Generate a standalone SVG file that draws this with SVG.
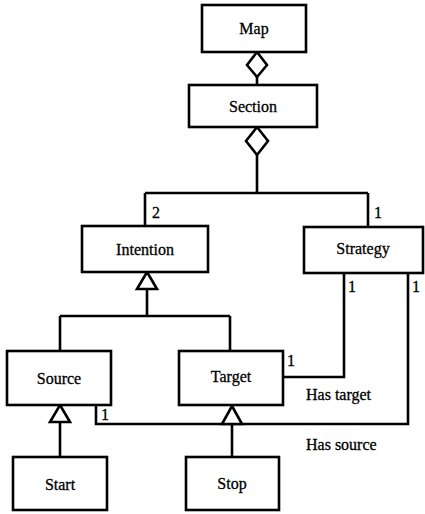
<svg xmlns="http://www.w3.org/2000/svg" width="425" height="514" viewBox="0 0 425 514">
<style>
.box{fill:#fff;stroke:#000;stroke-width:2.6}
.ln{fill:none;stroke:#000;stroke-width:2.6}
.dia{fill:#fff;stroke:#000;stroke-width:2.6}
text{font-family:"Liberation Serif","Times New Roman",Times,serif;font-size:16px;fill:#000;stroke:#000;stroke-width:0.3}
.c{text-anchor:middle}
</style>
<g id="connectors">
<path class="ln" d="M257 77 V85"/>
<path class="ln" d="M257 155 V193 M145 193 H368 M145 193 V226 M368 193 V227"/>
<path class="ln" d="M147 289 V316 M60 316 H230 M60 316 V351 M230 316 V351"/>
<path class="ln" d="M283 377 H344 V273"/>
<path class="ln" d="M96 405 V424 H408 V273"/>
<path class="ln" d="M60 422 V457"/>
<path class="ln" d="M232 424 V457"/>
<polygon class="dia" points="257,52 267,65 257,77 247,65"/>
<polygon class="dia" points="257,127 268,141 257,155 246,141"/>
<polygon class="dia" points="147,272 157,289 137,289"/>
<polygon class="dia" points="60,405 70,422 50,422"/>
<polygon class="dia" points="232,406 242,424 222,424"/>
<text x="152" y="218">2</text>
<text x="374" y="218">1</text>
<text x="348" y="292">1</text>
<text x="412" y="292">1</text>
<text x="287" y="366">1</text>
<text x="101" y="420">1</text>
<text x="306" y="400">Has target</text>
<text x="306" y="450">Has source</text>
</g>
<g id="map"><rect class="box" x="202" y="5" width="104" height="47"/><text class="c" x="254" y="34">Map</text></g>
<g id="section"><rect class="box" x="189" y="85" width="128" height="42"/><text class="c" x="253" y="112">Section</text></g>
<g id="intention"><rect class="box" x="82" y="226" width="126" height="46"/><text class="c" x="145" y="255">Intention</text></g>
<g id="strategy"><rect class="box" x="304" y="227" width="119" height="46"/><text class="c" x="363" y="254">Strategy</text></g>
<g id="source"><rect class="box" x="7" y="351" width="104" height="54"/><text class="c" x="59" y="384">Source</text></g>
<g id="target"><rect class="box" x="179" y="351" width="104" height="54"/><text class="c" x="231" y="382">Target</text></g>
<g id="start"><rect class="box" x="13" y="457" width="94" height="53"/><text class="c" x="60" y="490">Start</text></g>
<g id="stop"><rect class="box" x="186" y="457" width="93" height="53"/><text class="c" x="232" y="489">Stop</text></g>
</svg>
